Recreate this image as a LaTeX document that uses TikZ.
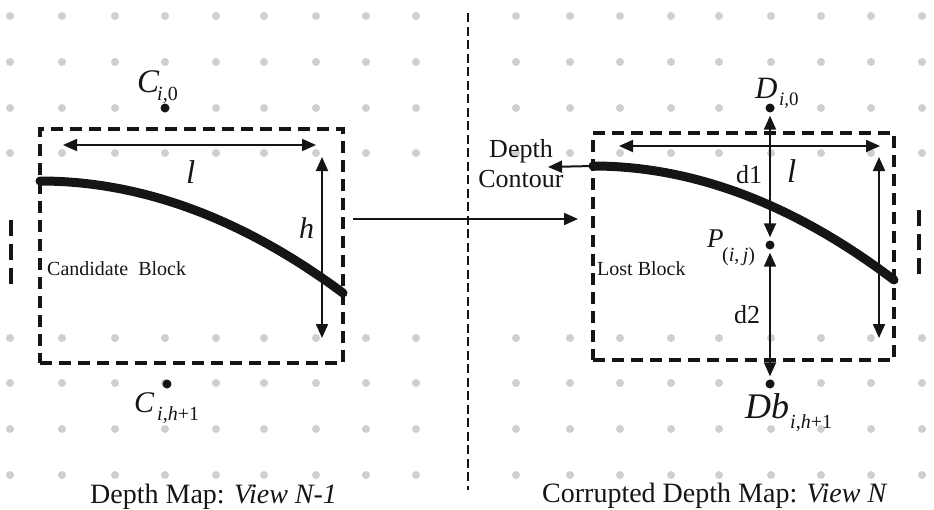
\documentclass[tikz,border=0pt]{standalone}
\usepackage{fontspec}
\setmainfont{Liberation Serif}[UprightFont={Liberation Serif}, ItalicFont={Liberation Serif Italic}, BoldFont={Liberation Serif Bold}]
\usetikzlibrary{arrows.meta}
\definecolor{ink}{HTML}{151515}
\definecolor{griddot}{HTML}{CFCFCF}
\tikzset{
  lbl/.style={inner sep=0pt, anchor=base west, text=ink},
  blockbox/.style={draw=ink, line width=3.5pt, dash pattern=on 12pt off 7pt, inner sep=0pt, outer sep=0pt},
  dimarrow/.style={draw=ink, line width=2pt, {Triangle[length=14pt,width=12pt]}-{Triangle[length=14pt,width=12pt]}},
  onearrow/.style={draw=ink, line width=2pt, -{Triangle[length=14pt,width=12pt]}},
  contourline/.style={draw=ink, line width=9pt, line cap=round},
  blackdot/.style={circle, fill=ink, inner sep=0pt, minimum size=9pt},
  divider/.style={draw=ink, line width=2.5pt, dash pattern=on 9pt off 4.5pt},
  sidemark/.style={draw=ink, line width=4pt, dash pattern=on 16pt off 8pt},
}
\newcommand{\fs}[1]{\fontsize{#1}{#1}\selectfont}
\begin{document}
\begin{tikzpicture}[x=1pt, y=-1pt]
\useasboundingbox (0,0) rectangle (934,509);
% dot grid
\foreach \yy in {16,62,108,153,338,383,429,475}{
  \foreach \xx in {10,62,115,165,216,264,316,366,416,516,570,620,671,719,771,821,871,922}{
    \fill[griddot] (\xx,\yy) circle (4pt);
  }
}
% divider and side marks
\draw[divider] (468,13) -- (468,490);
\draw[sidemark] (11,220) -- (11,286);
\draw[sidemark] (919,210) -- (919,276);
% blocks
\node[blockbox, minimum width=303pt, minimum height=234pt, anchor=north west] (candbox) at (40,129) {};
\node[blockbox, minimum width=301pt, minimum height=227pt, anchor=north west] (lostbox) at (593,133) {};
% contours
\coordinate (lcA) at (40,181);
\coordinate (lcB) at (343,293);
\draw[contourline] (lcA) .. controls (141,181) and (242,218) .. (lcB);
\coordinate (rcA) at (593,166);
\coordinate (rcB) at (894,280);
\draw[contourline] (rcA) .. controls (693,166) and (794,204) .. (rcB);
% left dimension arrows
\coordinate (llA) at (63,145);
\coordinate (llB) at (316,145);
\draw[dimarrow] (llA) -- (llB);
\coordinate (lhA) at (322,157);
\coordinate (lhB) at (322,338);
\draw[dimarrow] (lhA) -- (lhB);
\node[lbl] (llabel) at (186,183) {\fs{33}\itshape l};
\node[lbl] (hlabel) at (299,238) {\fs{30}\itshape h};
% right dimension arrows
\coordinate (rlA) at (619,146);
\coordinate (rlB) at (880,146);
\draw[dimarrow] (rlA) -- (rlB);
\coordinate (rhA) at (879,157);
\coordinate (rhB) at (879,338);
\draw[dimarrow] (rhA) -- (rhB);
\node[lbl] (rllabel) at (787,182) {\fs{33}\itshape l};
% candidate points
\node[blackdot] (ci0) at (165,108) {};
\node[lbl] (ci0C) at (137,92) {\fs{33}\itshape C};
\node[lbl] (ci0s) at (157,100) {\fs{20}\itshape i\upshape,0};
\node[blackdot] (cih) at (167,384) {};
\node[lbl] (cihC) at (134,412) {\fs{30}\itshape C};
\node[lbl] (cihs) at (157,420) {\fs{20}\itshape i\upshape,\itshape h\upshape+1};
% block labels
\node[lbl] (candtext) at (47,275) {\fs{20}Candidate~~Block};
\node[lbl] (losttext) at (597,275) {\fs{20}Lost Block};
% main arrow
\coordinate (mA) at (353,219);
\coordinate (mB) at (578,219);
\draw[onearrow] (mA) -- (mB);
% depth contour
\coordinate (dcTip) at (548,167);
\draw[onearrow] (rcA) -- (dcTip);
\node[inner sep=0pt, anchor=base, text=ink] (dc1) at (521,157) {\fs{26}Depth};
\node[inner sep=0pt, anchor=base, text=ink] (dc2) at (521,187) {\fs{26}Contour};
% lost block points
\node[blackdot] (di0) at (770,108) {};
\node[lbl] (di0D) at (755,98) {\fs{31}\itshape D};
\node[lbl] (di0s) at (779,105) {\fs{19}\itshape i\upshape,0};
\node[blackdot] (pij) at (770,245) {};
\node[lbl] (pijP) at (707,247) {\fs{27}\itshape P};
\node[lbl] (pijs) at (722,261) {\fs{20}(\textit{i},\,\textit{j})};
\node[blackdot] (dbh) at (770,384) {};
\node[lbl] (dbhD) at (745,418) {\fs{36}\itshape Db};
\node[lbl] (dbhs) at (790,428) {\fs{20}\itshape i\upshape,\itshape h\upshape+1};
\draw[dimarrow, shorten <=3pt, shorten >=3pt] (di0) -- (pij);
\draw[dimarrow, shorten <=3pt, shorten >=3pt] (pij) -- (dbh);
\node[lbl] (d1) at (736,183) {\fs{26}d1};
\node[lbl] (d2) at (734,323) {\fs{26}d2};
% captions
\node[lbl] (cap1) at (90,503) {\fs{28}Depth Map: \textit{View N-1}};
\node[lbl] (cap2) at (542,502) {\fs{28}Corrupted Depth Map: \textit{View N}};
\end{tikzpicture}
\end{document}
